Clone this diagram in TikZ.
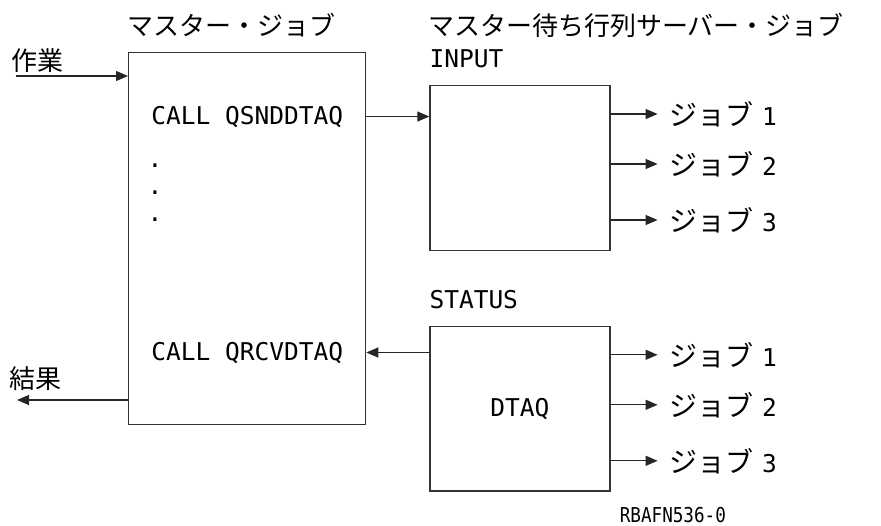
\documentclass[tikz,border=0pt]{standalone}
\usepackage{fontspec}
\newfontfamily\jp{Noto Sans CJK JP}
\newfontfamily\mono{DejaVu Sans Mono}
\newfontfamily\monotag[FakeStretch=0.86]{DejaVu Sans Mono}
\usepackage{tikz}
\usetikzlibrary{positioning,calc,arrows.meta}

\begin{document}
\begin{tikzpicture}[
    x=1pt, y=1pt,
    mainbox/.style={rectangle, draw=black!80, line width=1.3pt, minimum width=237pt, minimum height=372pt, inner sep=0pt},
    queuebox/.style={rectangle, draw=black!80, line width=1.3pt, minimum width=180pt, minimum height=164.5pt, inner sep=0pt, font=\mono\fontsize{24.5pt}{28pt}\selectfont},
    codetext/.style={inner sep=0pt, font=\mono\fontsize{24.5pt}{28pt}\selectfont},
    tagtext/.style={inner sep=0pt, font=\monotag\fontsize{20.5pt}{24pt}\selectfont},
    jplabel/.style={inner sep=0pt, font=\jp\fontsize{26pt}{30pt}\selectfont},
    joblabel/.style={inner xsep=12pt, inner ysep=0pt, font=\jp\fontsize{28pt}{32pt}\selectfont},
    arrow/.style={-{Triangle[length=12pt, width=10pt]}, line width=1.3pt, black!85}
]
    \useasboundingbox (0,0) rectangle (881,-525);

    % master job
    \node[mainbox, anchor=north west] (master) at (128,-52) {};
    \node[jplabel, anchor=west] (mtitle) at (127,-25) {マスター・ジョブ};
    \node[codetext, anchor=base] (snd) at ($(master.north)+(0,-72)$) {CALL QSNDDTAQ};
    \foreach \i in {1,2,3}
        \node[codetext, anchor=base] (dot\i) at (155,{-140-27*\i}) {.};
    \node[codetext, anchor=base] (rcv) at ($(master.north)+(0,-308)$) {CALL QRCVDTAQ};

    % work in, result out
    \node[jplabel, anchor=south west] (work) at (11,-73) {作業};
    \coordinate (workin) at (16,-76);
    \draw[arrow] (workin) -- (workin -| master.west);
    \node[jplabel, anchor=south west] (result) at (9,-391) {結果};
    \coordinate (resout) at (17,-400);
    \draw[arrow] (resout -| master.west) -- (resout);

    % server jobs
    \node[jplabel, anchor=west] (stitle) at (428,-25) {マスター待ち行列サーバー・ジョブ};
    \node[queuebox, below right=33pt and 63pt of master.north east] (inq) {};
    \node[codetext, above right=17pt and 0pt of inq.north west] (inlbl) {INPUT};
    \node[queuebox, below=75pt of inq] (stq) {DTAQ};
    \node[codetext, above right=17pt and 0pt of stq.north west] (stlbl) {STATUS};

    \draw[arrow] (snd -| master.east) -- (snd -| inq.west);
    \draw[arrow] (rcv -| stq.west) -- (rcv -| master.east);

    \foreach \q in {inq, stq}
        \foreach \n/\dy in {1/29, 2/79, 3/135} {
            \node[joblabel, anchor=west] (\q\n) at ($(\q.north east)+(47,-\dy)$) {ジョブ\hspace{0.3em}{\mono\fontsize{24.5pt}{28pt}\selectfont\n}};
            \draw[arrow] (\q\n -| \q.east) -- (\q\n.west);
        }

    \node[tagtext, below right=15pt and 9pt of stq.south east] (tag) {RBAFN536-0};
\end{tikzpicture}
\end{document}
